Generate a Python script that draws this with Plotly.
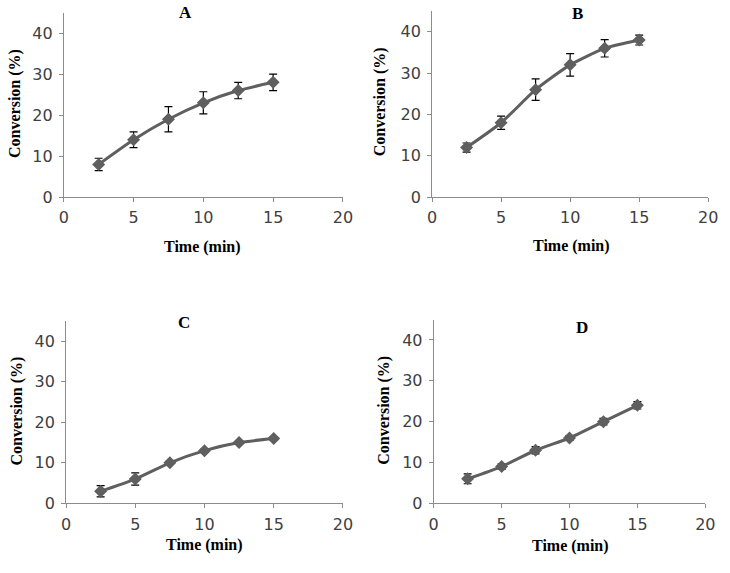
import plotly.graph_objects as go

time_min = [2.5, 5, 7.5, 10, 12.5, 15]
conv_A = [8, 14, 19, 23, 26, 28]
err_A = [1.5, 1.9, 3.1, 2.7, 2.0, 2.0]
conv_B = [12, 18, 26, 32, 36, 38]
err_B = [1.1, 1.6, 2.6, 2.7, 2.1, 1.2]
conv_C = [3, 6, 10, 13, 15, 16]
err_C = [1.4, 1.5, 0.4, 0.4, 0.4, 0.4]
conv_D = [6, 9, 13, 16, 20, 24]
err_D = [1.2, 0.7, 0.9, 0.6, 0.8, 0.9]
panel_labels = ["A", "B", "C", "D"]
x_ticks = [0, 5, 10, 15, 20]
y_ticks = [0, 10, 20, 30, 40]

W, H = 730, 573

# pixel boxes: (x0, x1, ytop, ybottom)
boxes = [
    (60, 345, 12.8, 200.7),
    (436, 718, 11.3, 200.7),
    (62.3, 345, 326.7, 512.3),
    (437.7, 715, 325.2, 512.3),
]
title_pos = [(184, 13), (585, 14), (183, 328), (589, 333)]
xtitle_pos = [(202, 251), (578, 250), (204, 555), (577, 556)]
ytitle_pos = [(10, 105), (383, 104), (12, 418), (387, 418)]

series = [(conv_A, err_A), (conv_B, err_B), (conv_C, err_C), (conv_D, err_D)]

fig = go.Figure()
layout = dict(
    width=W, height=H,
    margin=dict(l=0, r=0, t=0, b=0),
    paper_bgcolor="white", plot_bgcolor="white",
    showlegend=False,
    annotations=[],
)

tickfont = dict(family="DejaVu Sans", size=16, color="#404040")
titlefont = dict(family="Liberation Serif", size=16, color="black")

for i, ((y, e), (x0, x1, yt, yb)) in enumerate(zip(series, boxes)):
    xa = "xaxis" if i == 0 else f"xaxis{i+1}"
    ya = "yaxis" if i == 0 else f"yaxis{i+1}"
    xr = "x" if i == 0 else f"x{i+1}"
    yr = "y" if i == 0 else f"y{i+1}"
    fig.add_trace(go.Scatter(
        x=time_min, y=y, xaxis=xr, yaxis=yr,
        mode="lines+markers",
        line=dict(color="#5f5f5f", width=3, shape="spline", smoothing=0.6),
        marker=dict(symbol="diamond", size=10, color="#5f5f5f"),
        error_y=dict(type="data", array=e, visible=True, color="black",
                     thickness=1.2, width=4),
    ))
    layout[xa] = dict(
        domain=[x0 / W, x1 / W], anchor=yr, range=[0, 20],
        tickvals=x_ticks, ticks="outside", ticklen=4, tickcolor="#8c8c8c",
        showline=True, linecolor="#8c8c8c", linewidth=1,
        showgrid=False, zeroline=False, tickfont=tickfont,
        ticklabelstandoff=2,
    )
    layout[ya] = dict(
        domain=[1 - yb / H, 1 - yt / H], anchor=xr, range=[0, 45],
        tickvals=y_ticks, ticks="outside", ticklen=4, tickcolor="#8c8c8c",
        showline=True, linecolor="#8c8c8c", linewidth=1,
        showgrid=False, zeroline=False, tickfont=tickfont,
        ticklabelstandoff=3,
    )
    tx, ty = title_pos[i]
    layout["annotations"].append(dict(
        text="<b>" + panel_labels[i] + "</b>", x=tx / W, y=1 - ty / H,
        xref="paper", yref="paper", showarrow=False,
        font=dict(family="Liberation Serif", size=17, color="black"),
        xanchor="center", yanchor="middle",
    ))
    xtx, xty = xtitle_pos[i]
    layout["annotations"].append(dict(
        text="<b>Time (min)</b>", x=xtx / W, y=1 - xty / H,
        xref="paper", yref="paper", showarrow=False, font=titlefont,
        xanchor="center", yanchor="middle",
    ))
    ytx, yty = ytitle_pos[i]
    layout["annotations"].append(dict(
        text="<b>Conversion (%)</b>", x=ytx / W, y=1 - yty / H,
        xref="paper", yref="paper", showarrow=False, font=titlefont,
        textangle=-90, xanchor="center", yanchor="middle",
    ))

fig.update_layout(**layout)
fig.write_html(
    "out.html",
    config={"displayModeBar": False},
    post_script="document.body.style.margin='0';document.body.style.overflow='hidden';",
)
